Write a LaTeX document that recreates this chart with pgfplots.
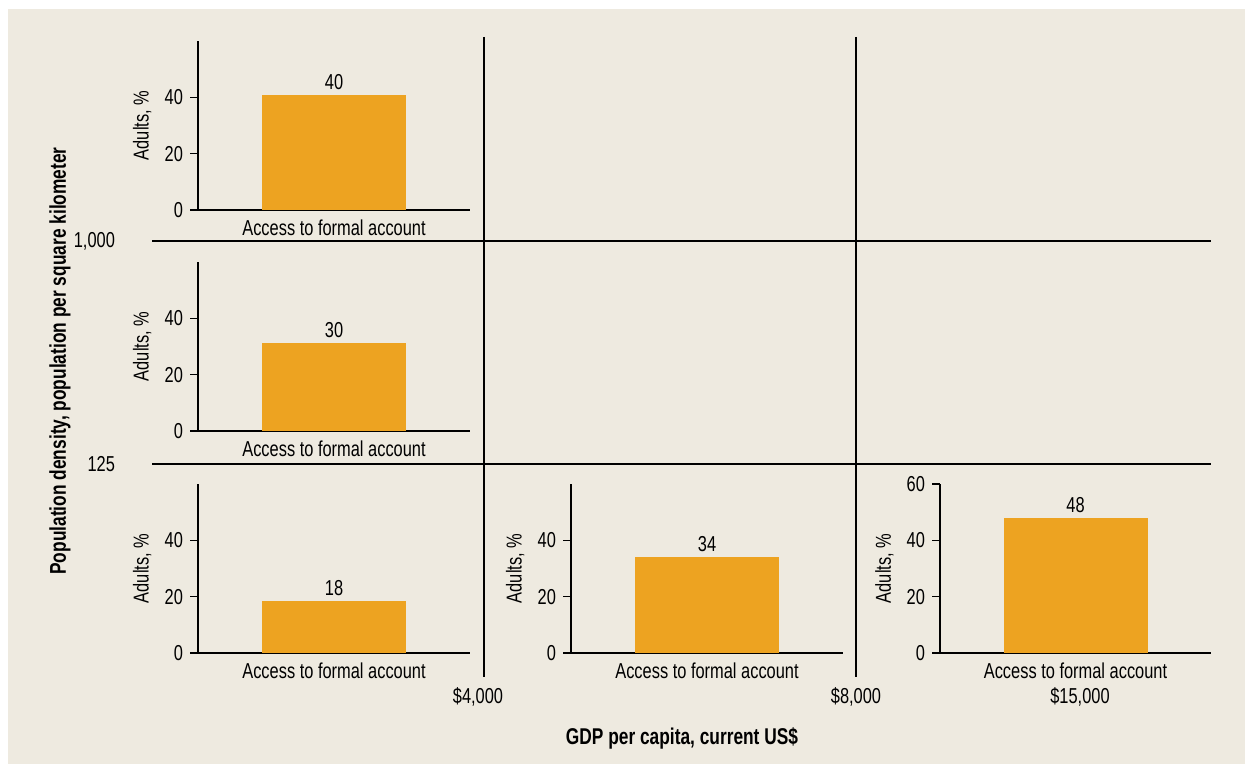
\documentclass[border=0pt]{standalone}
\usepackage{fontspec}
\setmainfont{Liberation Sans}[FakeStretch=0.76]
\usepackage{pgfplots}
\pgfplotsset{compat=1.18}
\definecolor{bg}{HTML}{EEEAE0}
\definecolor{barc}{HTML}{EDA321}
\newcommand{\fs}{\fontsize{10.8}{13}\selectfont}
\pgfplotsset{
  panel/.style={
    anchor=south west, scale only axis,
    width=136pt, height=84.5pt,
    xmin=0, xmax=1, ymin=0, ymax=60,
    axis x line*=bottom, axis y line*=left,
    axis line style={-, line width=0.6pt, black},
    ytick={0,20,40},
    xtick={0.5}, xticklabels={Access to formal account},
    tick align=outside,
    major tick length=4pt,
    ytick style={line width=0.6pt, black},
    xtick style={draw=none},
    xticklabel style={yshift=2.5pt},
    /pgf/number format/assume math mode=true,
    ylabel={Adults, \%},
    every axis y label/.style={at={(axis description cs:-0.205,0.5)}, anchor=center, rotate=90},
    ybar, bar width=72pt,
    point meta=explicit symbolic,
    nodes near coords,
    every node near coord/.append style={font=\fs, yshift=-1pt},
    tick label style={font=\fs},
    label style={font=\fs},
    clip=false,
  }
}
\begin{document}
\begin{tikzpicture}[x=1pt,y=1pt]
\fill[white] (0,0) rectangle (622.5,-382);
\fill[bg] (4,-4.5) rectangle (622.5,-382);
% dividers
\draw[line width=0.7pt] (76,-120.5) -- (605.5,-120.5);
\draw[line width=0.7pt] (76,-232) -- (605.5,-232);
\draw[line width=0.7pt] (242,-18.5) -- (242,-338.5);
\draw[line width=0.7pt] (428,-18.5) -- (428,-338.5);
\node[anchor=east, font=\fs] at (61,-120.5) {1,000};
\node[anchor=east, font=\fs] at (61,-232) {125};
\node[font=\fs] at (239,-348.5) {\$4,000};
\node[font=\fs] at (428,-348.5) {\$8,000};
\node[font=\fs] at (540,-348.5) {\$15,000};
\node[font=\bfseries\fontsize{11.4}{13}\selectfont] at (341,-369) {GDP per capita, current US\$};
\node[font=\bfseries\fontsize{11.4}{13}\selectfont, rotate=90] at (30,-180.5) {Population density, population per square kilometer};

\begin{axis}[panel, at={(99pt,-105pt)}]
\addplot[fill=barc, draw=none] coordinates {(0.5,40.8) [40]};
\end{axis}
\begin{axis}[panel, at={(99pt,-215.5pt)}]
\addplot[fill=barc, draw=none] coordinates {(0.5,31.2) [30]};
\end{axis}
\begin{axis}[panel, at={(99pt,-326.5pt)}]
\addplot[fill=barc, draw=none] coordinates {(0.5,18.5) [18]};
\end{axis}
\begin{axis}[panel, at={(285.5pt,-326.5pt)}]
\addplot[fill=barc, draw=none] coordinates {(0.5,34.1) [34]};
\end{axis}
\begin{axis}[panel, at={(470pt,-326.5pt)}, width=135.5pt, ytick={0,20,40,60}]
\addplot[fill=barc, draw=none] coordinates {(0.5,47.9) [48]};
\end{axis}
\end{tikzpicture}
\end{document}
